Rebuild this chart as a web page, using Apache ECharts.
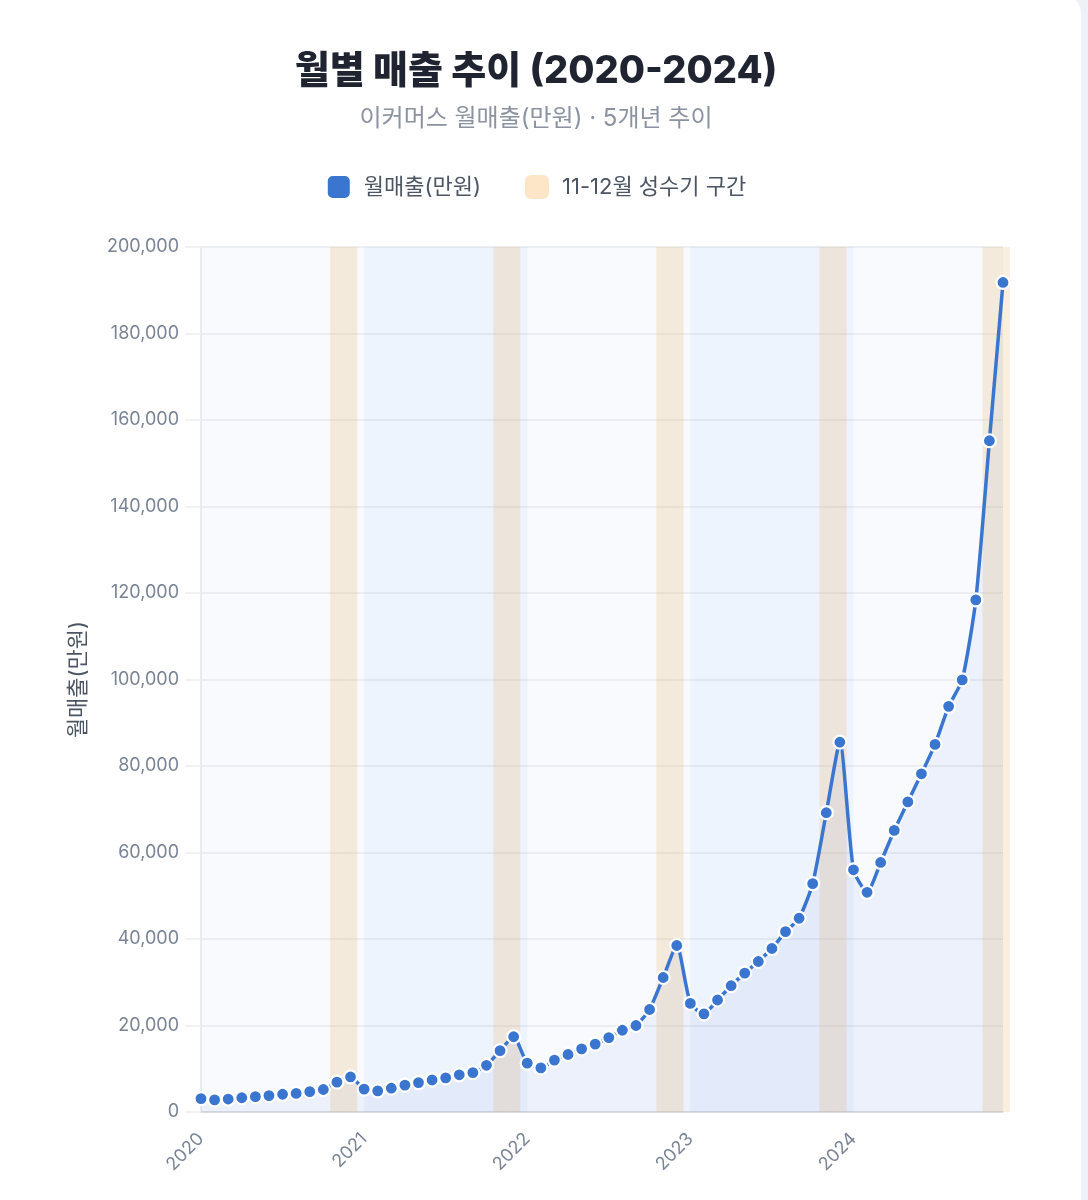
<!DOCTYPE html>
<html lang="ko">
<head>
    <meta charset="UTF-8">
    <title>월별 매출 추이</title>
    <script src="https://cdn.jsdelivr.net/npm/echarts@6/dist/echarts.min.js"></script>
    <style type="text/css">
        html, body {
            margin: 0;
            padding: 0;
            width: 1088px;
            height: 1200px;
            overflow: hidden;
            background: #eef2f8;
        }
        .card {
            position: absolute;
            left: -20px;
            top: -6px;
            width: 1101px;
            height: 1300px;
            background: #fff;
            border-radius: 20px;
        }
        .chartData {
            position: absolute;
            left: 0;
            top: 0;
            width: 1072px;
            height: 1200px;
        }
    </style>
</head>
<body>
<div class="card"></div>
<div class="chartData" id="chartData"></div>
<script type="text/javascript">
    // 월매출(만원), 2020-01 ~ 2024-12
    var years = ['2020', '2021', '2022', '2023', '2024'];
    var months = ['01', '02', '03', '04', '05', '06', '07', '08', '09', '10', '11', '12'];
    var sales2020 = [3100, 2800, 3000, 3300, 3550, 3800, 4100, 4300, 4700, 5200, 6900, 8100];
    var sales2021 = [5300, 4900, 5500, 6200, 6800, 7400, 7900, 8600, 9100, 10800, 14200, 17400];
    var sales2022 = [11300, 10200, 12000, 13300, 14600, 15700, 17200, 18900, 20000, 23700, 31100, 38500];
    var sales2023 = [25100, 22700, 25900, 29200, 32100, 34800, 37800, 41700, 44800, 52800, 69200, 85500];
    var sales2024 = [56000, 50800, 57700, 65100, 71700, 78200, 85000, 93800, 99900, 118400, 155200, 191800];
    var peakMonths = ['11', '12'];
    var yTicks = [0, 20000, 40000, 60000, 80000, 100000, 120000, 140000, 160000, 180000, 200000];

    var lineColor = '#3a76d0';
    var labelColor = '#7a8496';
    var textColor = '#4b5563';
    var fontFamily = 'Inter, "Noto Sans CJK KR", sans-serif';

    var dayArray = [], salesArray = [], peakArray = [];
    var allSales = [sales2020, sales2021, sales2022, sales2023, sales2024];
    for (var y = 0; y < years.length; y++) {
        for (var m = 0; m < months.length; m++) {
            dayArray.push(years[y] + '-' + months[m]);
            salesArray.push(allSales[y][m]);
            peakArray.push(peakMonths.indexOf(months[m]) > -1 ? yTicks[yTicks.length - 1] : '-');
        }
    }

    // 홀수 해 배경 구간
    var yearBands = [
        [{xAxis: '2021-01'}, {xAxis: '2022-01'}],
        [{xAxis: '2023-01'}, {xAxis: '2024-01'}]
    ];

    var myChart = echarts.init(document.getElementById('chartData'));
    var option = {
        textStyle: {fontFamily: fontFamily},
        title: {
            text: '월별 매출 추이 (2020-2024)',
            subtext: '이커머스 월매출(만원) · 5개년 추이',
            left: 'center',
            top: 48,
            itemGap: 16,
            textStyle: {
                fontSize: 38,
                fontWeight: 800,
                color: '#1f2430',
                fontFamily: fontFamily
            },
            subtextStyle: {
                fontSize: 24,
                color: '#8b92a0',
                fontFamily: fontFamily
            }
        },
        legend: {
            top: 169,
            left: 'center',
            icon: 'roundRect',
            itemWidth: 24,
            itemHeight: 24,
            itemGap: 44,
            textStyle: {
                fontSize: 22,
                color: textColor,
                padding: [0, 0, 0, 8],
                fontFamily: fontFamily
            },
            data: [
                {name: '월매출(만원)'},
                {name: '11-12월 성수기 구간', itemStyle: {color: '#fde5c8'}}
            ]
        },
        grid: {
            left: 201,
            right: 69,
            top: 247,
            bottom: 88,
            show: true,
            backgroundColor: '#f8fafe',
            borderWidth: 0
        },
        xAxis: {
            type: 'category',
            data: dayArray,
            boundaryGap: false,
            axisLine: {lineStyle: {color: '#d3d6dc', width: 1.5}},
            axisTick: {show: false},
            splitLine: {show: false},
            axisLabel: {
                rotate: 45,
                margin: 24,
                fontSize: 18,
                color: labelColor,
                interval: function (idx) { return idx % 12 === 0; },
                formatter: function (val) { return val.slice(0, 4); }
            }
        },
        yAxis: {
            type: 'value',
            min: yTicks[0],
            max: yTicks[yTicks.length - 1],
            interval: yTicks[1] - yTicks[0],
            name: '월매출(만원)',
            nameLocation: 'middle',
            nameGap: 112,
            nameTextStyle: {fontSize: 22, color: textColor, fontFamily: fontFamily},
            axisLine: {show: true, lineStyle: {color: '#e2e5ea', width: 1.5}},
            axisTick: {show: true, length: 16, lineStyle: {color: '#eceef1', width: 1.5}},
            splitLine: {lineStyle: {color: '#e6e8ec', width: 1.5}},
            axisLabel: {
                margin: 22,
                fontSize: 18,
                color: labelColor,
                formatter: function (v) { return v.toLocaleString('en-US'); }
            }
        },
        series: [
            {
                name: '11-12월 성수기 구간',
                type: 'bar',
                data: peakArray,
                barWidth: '100%',
                clip: false,
                z: 1,
                silent: true,
                itemStyle: {color: 'rgba(236,182,108,0.24)'}
            },
            {
                name: '월매출(만원)',
                type: 'line',
                data: salesArray,
                smooth: 0.2,
                z: 3,
                symbol: 'circle',
                symbolSize: 13,
                showSymbol: true,
                showAllSymbol: true,
                itemStyle: {color: lineColor, borderColor: '#fff', borderWidth: 2.2},
                lineStyle: {color: lineColor, width: 3.5},
                areaStyle: {color: 'rgba(58,118,208,0.09)'},
                markArea: {
                    silent: true,
                    itemStyle: {color: 'rgba(59,130,246,0.05)'},
                    data: yearBands
                }
            }
        ]
    };
    myChart.setOption(option);
</script>
</body>
</html>
